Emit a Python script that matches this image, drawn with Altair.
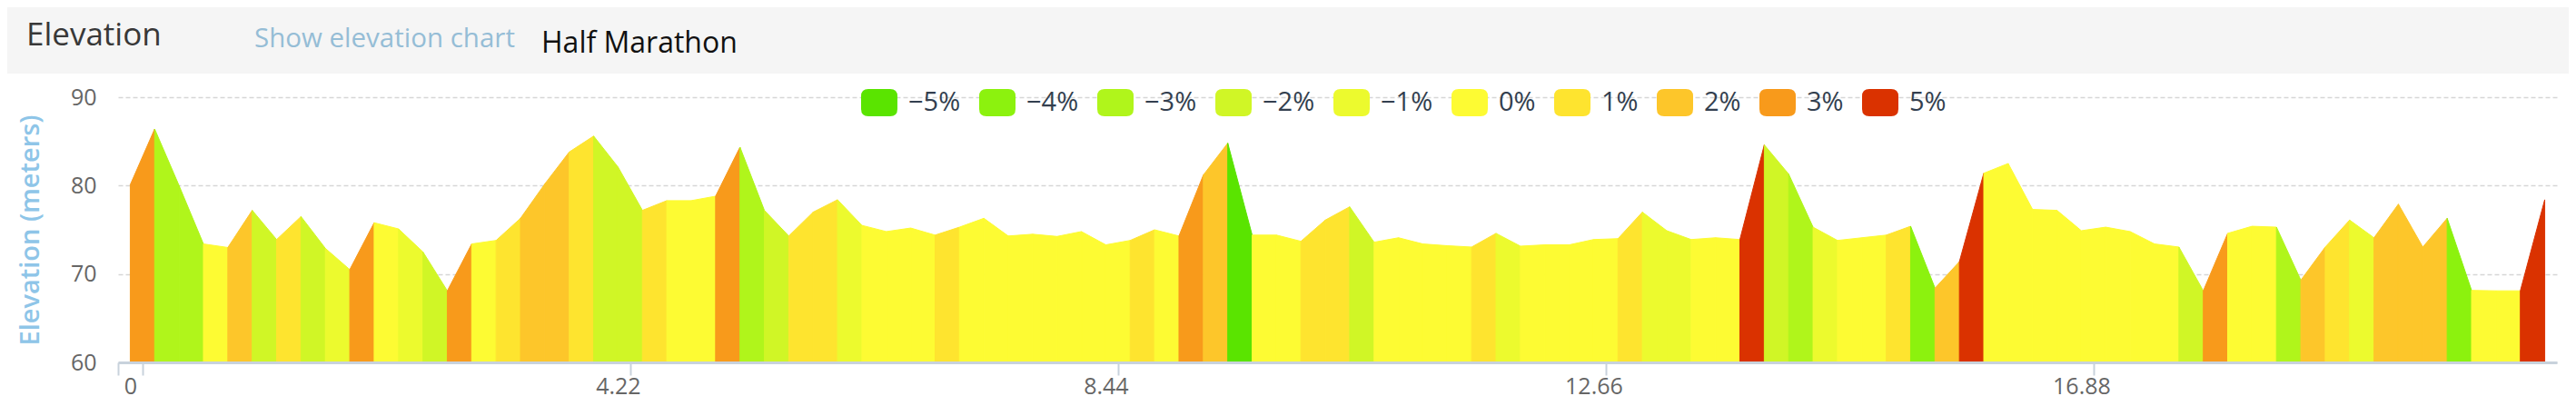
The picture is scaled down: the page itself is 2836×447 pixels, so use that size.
import altair as alt
import pandas as pd

# ---- data ----
step_km = 0.211  # sampling step of the profile (category axis of 100 points)
elevation = [80.1, 86.4, 80.0, 73.4, 73.0, 77.2, 73.9, 76.5, 72.9, 70.5,
             75.8, 75.1, 72.5, 68.1, 73.4, 73.8, 76.3, 80.2, 83.8, 85.6,
             82.1, 77.2, 78.3, 78.3, 78.8, 84.35, 77.2, 74.3, 77.0, 78.4,
             75.5, 74.8, 75.2, 74.4, 75.3, 76.3, 74.3, 74.5, 74.25, 74.8,
             73.3, 73.8, 75.0, 74.3, 81.2, 84.8, 74.4, 74.4, 73.7, 76.1,
             77.6, 73.6, 74.1, 73.4, 73.2, 73.05, 74.6, 73.15, 73.3, 73.3,
             73.9, 74.0, 77.0, 74.9, 73.9, 74.1, 73.9, 84.6, 81.3, 75.3,
             73.8, 74.1, 74.4, 75.4, 68.4, 71.4, 81.4, 82.5, 77.3, 77.2,
             74.9, 75.3, 74.8, 73.4, 73.05, 68.1, 74.6, 75.4, 75.3, 69.3,
             73.05, 76.1, 74.1, 77.9, 73.05, 76.3, 68.15, 68.1, 68.1, 78.4]

# grade class (%) of each segment between consecutive points
segment_grade = [3, -3, -3, 0, 2, -2, 1, -2, -1, 3,
                 0, -1, -2, 3, 0, 1, 2, 2, 1, -2,
                 -2, 1, 0, 0, 3, -3, -2, 1, 1, -1,
                 0, 0, 0, 1, 0, 0, 0, 0, 0, 0,
                 0, 1, 0, 3, 2, -5, 0, 0, 1, 1,
                 -2, 0, 0, 0, 0, 1, -1, 0, 0, 0,
                 0, 1, -1, -1, 0, 0, 5, -2, -3, -1,
                 0, 0, 1, -4, 2, 5, 0, 0, 0, 0,
                 0, 0, 0, 0, -2, 3, 0, 0, -3, 2,
                 1, -1, 2, 2, 2, -4, 0, 0, 5]

grade_levels = [-5, -4, -3, -2, -1, 0, 1, 2, 3, 5]
grade_colors = ["#5ae400", "#8cf20e", "#b0f51b", "#d0f626", "#ecfa2e",
                "#fdfb33", "#fee42f", "#fdc62a", "#f89a1b", "#da3200"]

x_tick_labels = ["0", "4.22", "8.44", "12.66", "16.88"]
header_texts = ["Elevation", "Show elevation chart", "Half Marathon"]
y_title = "Elevation (meters)"


def grade_label(g):
    return f"{g}%".replace("-", "\u2212")


grade_names = [grade_label(g) for g in grade_levels]

distance = [round(i * step_km, 3) for i in range(len(elevation))]
rows = []
for s, g in enumerate(segment_grade):
    for j in (s, s + 1):
        rows.append({"seg": s, "km": distance[j], "elev": elevation[j],
                     "grade": grade_label(g)})
seg_df = pd.DataFrame(rows)

# ---- layout ----
W, H = 2685, 292
half = step_km / 2
x_min, x_max = -half, distance[-1] + half
tick_values = [round(-half, 4)] + [round(float(t) + half, 4) for t in x_tick_labels]

rounded = ("M -0.6 -0.75 L 0.6 -0.75 Q 1 -0.75 1 -0.35 L 1 0.35 Q 1 0.75 0.6 0.75 "
           "L -0.6 0.75 Q -1 0.75 -1 0.35 L -1 -0.35 Q -1 -0.75 -0.6 -0.75 Z")

color_scale = alt.Scale(domain=grade_names, range=grade_colors)

area = alt.Chart(seg_df).mark_area(strokeWidth=1, interpolate="linear").encode(
    x=alt.X("km:Q",
            scale=alt.Scale(domain=[x_min, x_max], nice=False, zero=False),
            axis=alt.Axis(values=tick_values,
                          labelExpr=f"datum.value < 0 ? '' : format(datum.value - {half}, '.2~f')",
                          title=None, grid=False, zindex=1,
                          domainColor="#c8d2dc", domainWidth=3,
                          tickColor="#c8d2dc", tickWidth=2, tickSize=14,
                          labelFontSize=25, labelColor="#666666",
                          labelPadding=0, labelOffset=-half * W / (x_max - x_min),
                          labelFlush=False, labelOverlap=False)),
    y=alt.Y("elev:Q", stack=None,
            scale=alt.Scale(domain=[60, 90], nice=False, zero=False),
            axis=alt.Axis(values=[60, 70, 80, 90], title=y_title,
                          titleX=-97, titleY=H / 2, titleAngle=270,
                          titleAlign="center", titleBaseline="middle",
                          titleFontSize=29, titleFontWeight=600, titleColor="#8ec5e8",
                          grid=True, gridDash=[5, 3], gridColor="#d6d6d6", gridWidth=1.5,
                          domain=False, ticks=False, tickSize=0, labelPadding=24,
                          labelFontSize=25, labelColor="#666666")),
    y2=alt.datum(60),
    color=alt.Color("grade:N", scale=color_scale,
                    legend=alt.Legend(title=None, orient="none", legendX=818, legendY=-14,
                                      direction="horizontal", symbolType=rounded,
                                      symbolSize=1600, symbolStrokeWidth=0,
                                      symbolOpacity=1,
                                      labelFontSize=29, labelColor="#333f4f",
                                      labelOffset=12, columnPadding=20)),
    stroke=alt.Stroke("grade:N", scale=color_scale, legend=None),
    detail="seg:N",
)

band = alt.Chart(pd.DataFrame({"k": [0]})).mark_rect(color="#f5f5f5").encode(
    x=alt.value(-122), x2=alt.value(W + 13), y=alt.value(-99), y2=alt.value(-26))

hdr = pd.DataFrame({"text": header_texts})
t1 = alt.Chart(hdr.iloc[[0]]).mark_text(align="left", baseline="alphabetic",
                                        fontSize=35, color="#383838").encode(
    text="text:N", x=alt.value(-101), y=alt.value(-57))
t2 = alt.Chart(hdr.iloc[[1]]).mark_text(align="left", baseline="alphabetic",
                                        fontSize=29.5, color="#95bdd6").encode(
    text="text:N", x=alt.value(150), y=alt.value(-55))
t3 = alt.Chart(hdr.iloc[[2]]).mark_text(align="left", baseline="alphabetic",
                                        fontSize=32, color="#111111").encode(
    text="text:N", x=alt.value(466), y=alt.value(-49))

chart = alt.layer(band, area, t1, t2, t3).properties(
    width=W, height=H,
    padding={"left": 122, "top": 99, "right": 13, "bottom": 47},
    autosize=alt.AutoSizeParams(type="none"),
    background="white",
).configure(font="Open Sans").configure_view(stroke=None)

chart.save("out.html", embed_options={"renderer": "svg", "actions": False})
